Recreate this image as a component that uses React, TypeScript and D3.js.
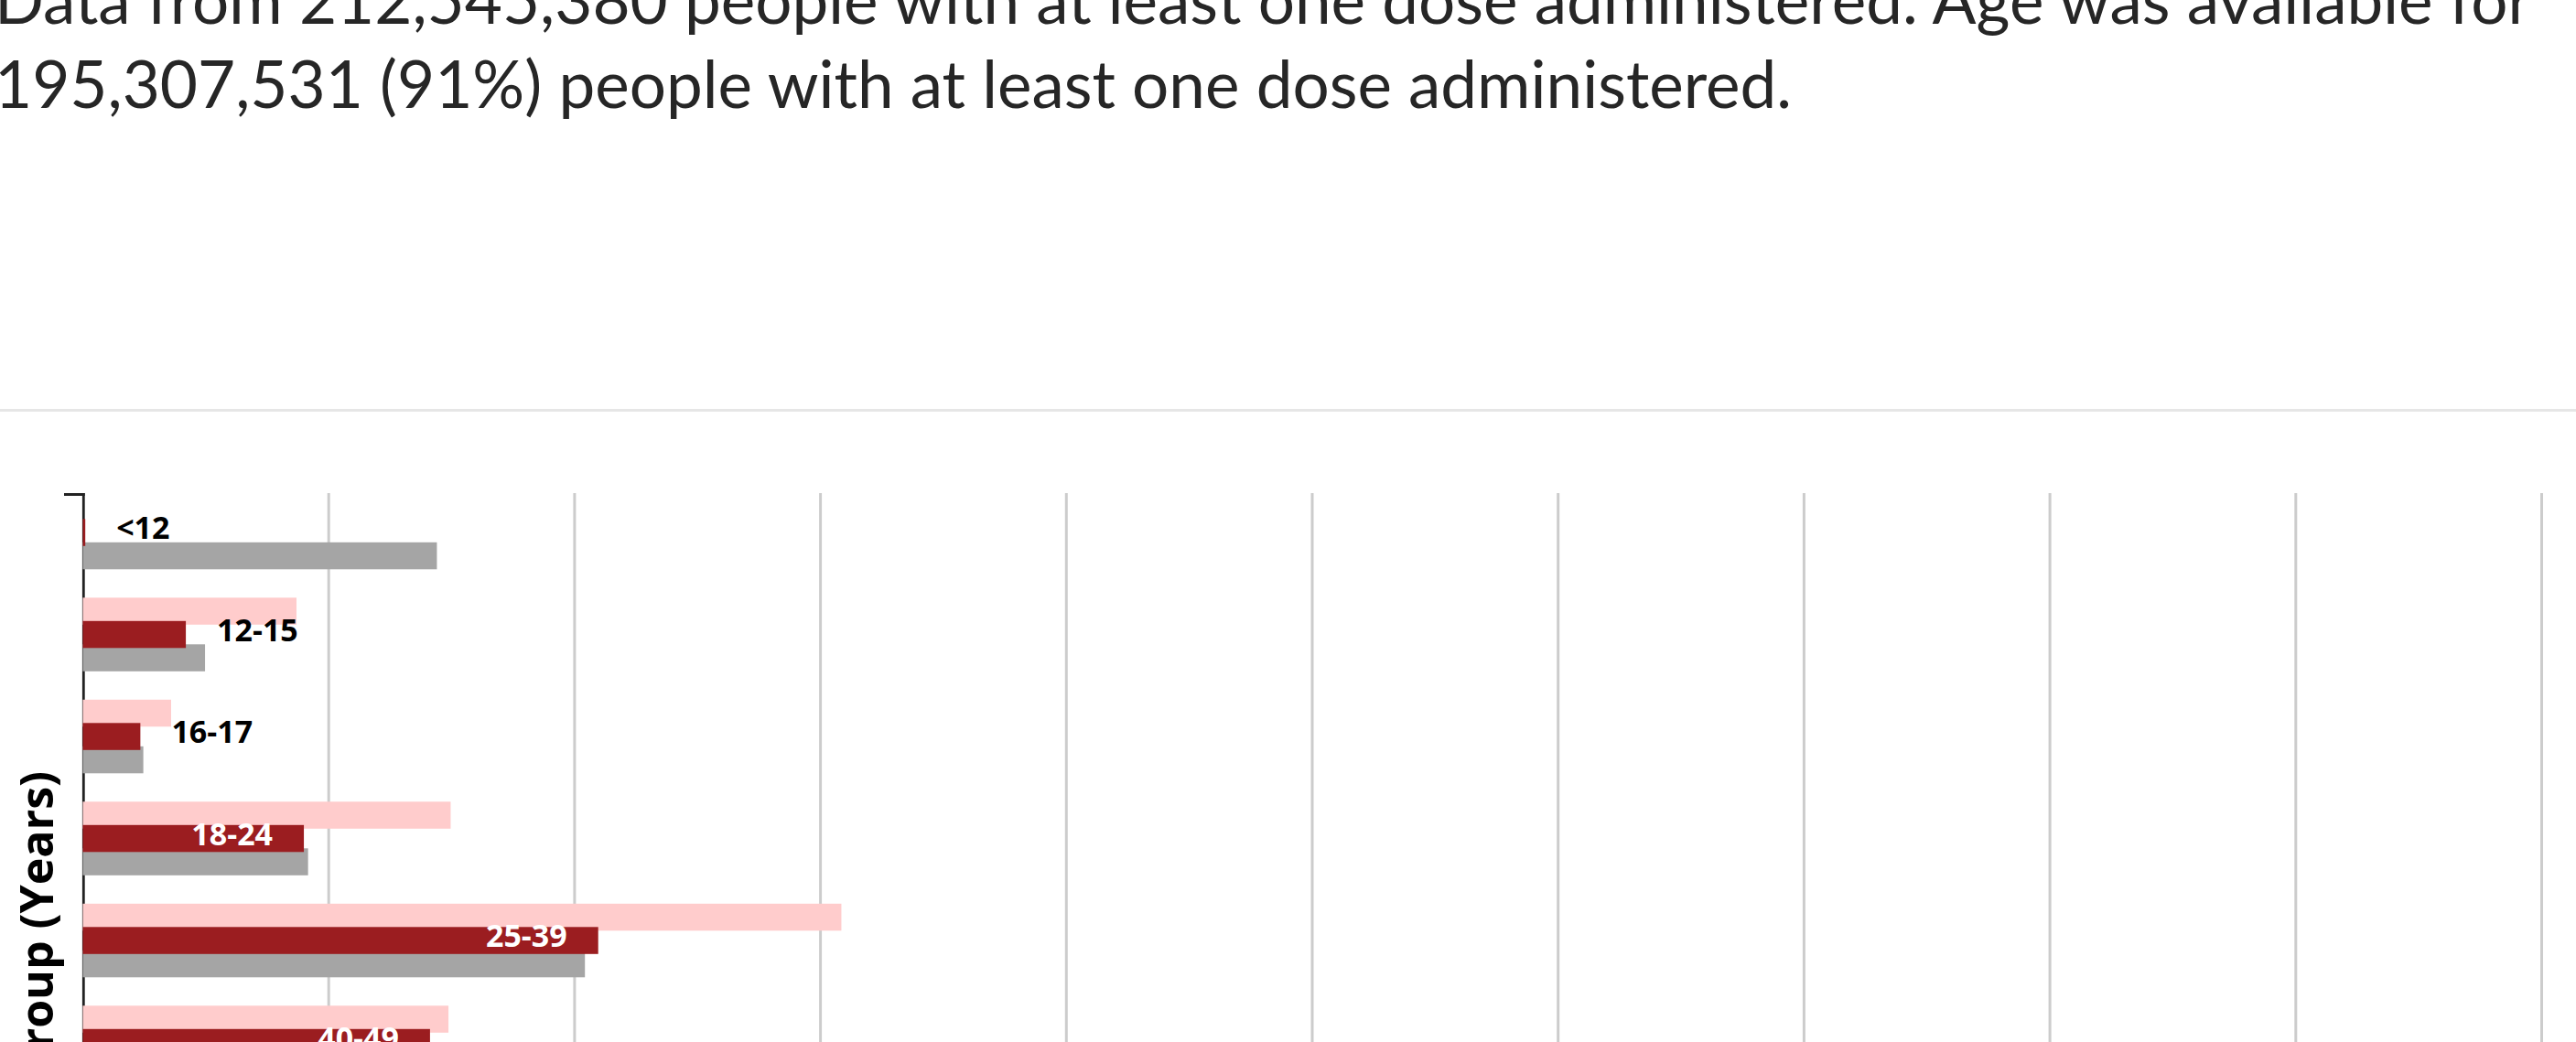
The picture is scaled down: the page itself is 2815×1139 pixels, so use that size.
import React from "react";
import * as d3 from "d3";

const categories = ["<12", "12-15", "16-17", "18-24", "25-39", "40-49"];
const recentDosePct = [0, 8.69, 3.59, 14.96, 30.85, 14.87];
const atLeastOneDosePct = [0.1, 4.19, 2.34, 8.99, 20.96, 14.12];
const usPopulationPct = [14.4, 4.97, 2.46, 9.16, 20.42, 12.4];
const xTicks = [0, 10, 20, 30, 40, 50, 60, 70, 80, 90, 100];
const titleLines = [
  "Data from 212,545,380 people with at least one dose administered. Age was available for",
  "195,307,531 (91%) people with at least one dose administered.",
];
const yAxisTitle = "Age Group (Years)";

const W = 2815;
const H = 1139;

export default function App() {
  const plotTop = 539;
  const groupStep = 111.5;
  const x = d3.scaleLinear().domain([0, 100]).range([90.5, 2777.5]);
  const y = d3
    .scaleBand<string>()
    .domain(categories)
    .range([plotTop, plotTop + groupStep * categories.length])
    .paddingInner(0)
    .paddingOuter(0);
  const inner = d3
    .scaleBand<string>()
    .domain(["light", "dark", "gray", "spare"])
    .range([2.8, 104.8]);
  const barH = inner.step() + 4;

  const series = [
    { key: "light", values: recentDosePct, color: "#ffcccc" },
    { key: "gray", values: usPopulationPct, color: "#a5a5a5" },
    { key: "dark", values: atLeastOneDosePct, color: "#9b1d20" },
  ];

  const labelFont = "'Open Sans', sans-serif";

  return (
    <svg
      width={W}
      height={H}
      style={{ position: "absolute", left: 0, top: 0, background: "#fff" }}
    >
      <rect x={0} y={0} width={W} height={H} fill="#fff" />
      {titleLines.map((t, i) => (
        <text
          key={i}
          x={-6}
          y={26 + i * 92.3}
          fontFamily="Lato, sans-serif"
          fontSize={71}
          fill="#262626"
        >
          {t}
        </text>
      ))}
      <rect x={0} y={447} width={W} height={3} fill="#e6e6e6" />

      {xTicks
        .filter((t) => t > 0)
        .map((t) => (
          <line
            key={t}
            x1={x(t)}
            x2={x(t)}
            y1={plotTop}
            y2={plotTop + groupStep * categories.length}
            stroke="#cccccc"
            strokeWidth={3}
          />
        ))}
      <line
        x1={91.3}
        x2={91.3}
        y1={plotTop}
        y2={plotTop + groupStep * categories.length}
        stroke="#222"
        strokeWidth={2.8}
      />
      <line x1={70} x2={92.7} y1={540.5} y2={540.5} stroke="#222" strokeWidth={3} />

      {series.map((s) => (
        <g key={s.key}>
          {categories.map((c, i) =>
            s.values[i] > 0 ? (
              <rect
                key={c}
                x={x(0)}
                y={(y(c) as number) + (inner(s.key) as number)}
                width={x(s.values[i]) - x(0)}
                height={barH}
                fill={s.color}
              />
            ) : null
          )}
        </g>
      ))}

      {categories.map((c, i) => {
        const end = x(atLeastOneDosePct[i]);
        const w = end - x(0);
        const inside = w > 160;
        const cy = (y(c) as number) + (inner("dark") as number) + barH / 2;
        return (
          <text
            key={c}
            x={inside ? end - 34 : end + 34}
            y={cy + 7}
            textAnchor={inside ? "end" : "start"}
            fontFamily={labelFont}
            fontWeight={700}
            fontSize={34}
            fill={inside ? "#ffffff" : "#000000"}
          >
            {c}
          </text>
        );
      })}

      <text
        transform={`translate(57.5, 843) rotate(-90)`}
        textAnchor="end"
        fontFamily={labelFont}
        fontWeight={700}
        fontSize={50}
        fill="#000"
      >
        {yAxisTitle}
      </text>
    </svg>
  );
}
